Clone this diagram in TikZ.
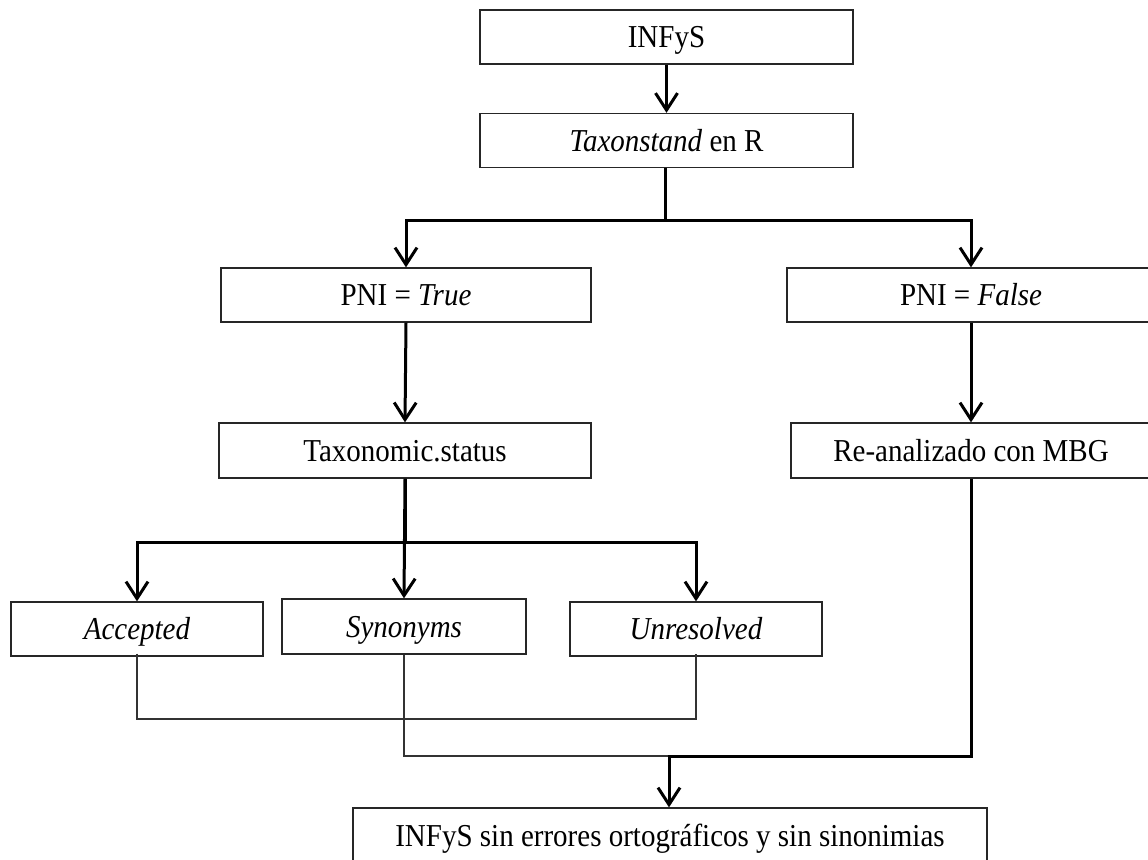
\documentclass[tikz,border=0pt]{standalone}
\usepackage{fontspec}
\usepackage{graphicx}
\setmainfont{Liberation Serif}
\usetikzlibrary{arrows.meta}
\newcommand{\tallt}[1]{\scalebox{1}[1.1]{#1}}
\begin{document}
\begin{tikzpicture}[x=1pt,y=-1pt,
  box/.style={draw=black!85,line width=1.3pt,minimum height=54pt,inner sep=0pt,font=\fontsize{29}{32}\selectfont,fill=white,text height=24pt,text depth=3pt},
  flow/.style={line width=3pt,-{Straight Barb[length=17pt,width=22pt,line width=3pt]}},
  thickline/.style={line width=3pt},
  thinline/.style={line width=1.3pt,draw=black!80}]
\useasboundingbox (0,0) rectangle (1148,859);
\clip (0,0) rectangle (1148,859);
\node[box,minimum width=373pt] (infys) at (666.5,37) {\tallt{INFyS}};
\node[box,minimum width=373pt] (taxon) at (666.5,140.5) {\tallt{\textit{Taxonstand} en R}};
\node[box,minimum width=370pt] (true) at (406,295) {\tallt{PNI = \textit{True}}};
\node[box,minimum width=368pt] (false) at (971,295) {\tallt{PNI = \textit{False}}};
\node[box,minimum width=372pt,minimum height=55pt] (status) at (405,450.5) {\tallt{Taxonomic.status}};
\node[box,minimum width=360pt,minimum height=55pt] (mbg) at (971,450.5) {\tallt{Re-analizado con MBG}};
\node[box,minimum width=252pt] (acc) at (137,629) {\tallt{\textit{Accepted}}};
\node[box,minimum width=244pt,minimum height=55pt] (syn) at (404,626.5) {\tallt{\textit{Synonyms}}};
\node[box,minimum width=252pt] (unr) at (696,629) {\tallt{\textit{Unresolved}}};
\node[box,minimum width=634pt,minimum height=55pt] (final) at (670,835.5) {\tallt{INFyS sin errores ortográficos y sin sinonimias}};
\coordinate (b1) at (665,220);
\coordinate (b2) at (405,542);
\coordinate (j) at (669,756);
% connectors
\draw[flow] (infys.south) -- (taxon.north);
\draw[thickline] (taxon.south -| b1) -- (b1);
\draw[flow] (b1) -| (true.north);
\draw[flow] (b1) -| (false.north);
\draw[flow] (true.south) -- (status.north);
\draw[flow] (false.south) -- (mbg.north);
\draw[thickline] (status.south) -- (b2);
\draw[flow] (b2) -| (acc.north);
\draw[flow] (status.south) -- (syn.north);
\draw[flow] (b2) -| (unr.north);
\draw[thinline] ([yshift=3pt]acc.south) |- (696,719) -- ([yshift=3pt]unr.south);
\draw[thinline] (syn.south) |- (j);
\draw[flow] (mbg.south) |- (j) -- (final.north -| j);
\end{tikzpicture}
\end{document}
